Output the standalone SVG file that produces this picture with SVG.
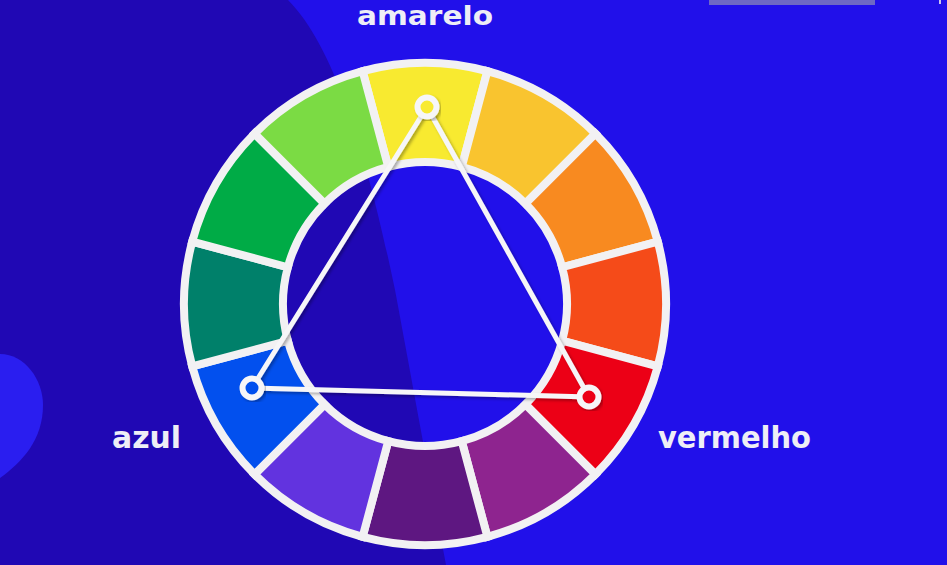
<svg xmlns="http://www.w3.org/2000/svg" width="947" height="565" viewBox="0 0 947 565">
  <defs>
    <style>
      .seg { stroke: #f2f1f3; stroke-width: 8; stroke-linejoin: miter; }
      .edge { stroke: #f6f6f8; stroke-width: 5; stroke-linecap: round; fill: none; }
      .dot { stroke: #f6f6f8; stroke-width: 6; }
      .label { font-family: "DejaVu Sans", "Liberation Sans", sans-serif; font-weight: bold; fill: #eeeef6; }
    </style>
    <filter id="shadow" x="-20%" y="-20%" width="140%" height="140%">
      <feDropShadow dx="2" dy="2" stdDeviation="1.5" flood-color="#000" flood-opacity="0.3"/>
    </filter>
  </defs>

  <!-- background -->
  <rect x="0" y="0" width="947" height="565" fill="#2110EA"/>
  <path d="M0,0 L288,0 C338,50 370,170 395,290 C410,370 428,470 446,565 L0,565 Z" fill="#2008B4"/>
  <path d="M0,354 C25,354 43,380 43,405 C43,440 22,462 0,478 Z" fill="#2A1EF0"/>
  <rect x="709" y="0" width="166" height="5" fill="#6E69C4"/>
  <rect x="939" y="0" width="2" height="4" fill="#c8c6ee"/>

  <!-- colour wheel -->
  <g id="wheel">
    <path id="seg-yellow" class="seg" fill="#F8EA30" d="M362.63,71.22 A241,241 0 0 1 487.37,71.22 L461.75,166.84 A142,142 0 0 0 388.25,166.84 Z"/>
    <path id="seg-yellow-orange" class="seg" fill="#F9C42F" d="M487.37,71.22 A241,241 0 0 1 595.41,133.59 L525.41,203.59 A142,142 0 0 0 461.75,166.84 Z"/>
    <path id="seg-orange" class="seg" fill="#F88A20" d="M595.41,133.59 A241,241 0 0 1 657.78,241.63 L562.16,267.25 A142,142 0 0 0 525.41,203.59 Z"/>
    <path id="seg-red-orange" class="seg" fill="#F54B19" d="M657.78,241.63 A241,241 0 0 1 657.78,366.37 L562.16,340.75 A142,142 0 0 0 562.16,267.25 Z"/>
    <path id="seg-red" class="seg" fill="#EC0016" d="M657.78,366.37 A241,241 0 0 1 595.41,474.41 L525.41,404.41 A142,142 0 0 0 562.16,340.75 Z"/>
    <path id="seg-red-violet" class="seg" fill="#8E248F" d="M595.41,474.41 A241,241 0 0 1 487.37,536.78 L461.75,441.16 A142,142 0 0 0 525.41,404.41 Z"/>
    <path id="seg-violet" class="seg" fill="#5E1781" d="M487.37,536.78 A241,241 0 0 1 362.63,536.78 L388.25,441.16 A142,142 0 0 0 461.75,441.16 Z"/>
    <path id="seg-blue-violet" class="seg" fill="#6233DF" d="M362.63,536.78 A241,241 0 0 1 254.59,474.41 L324.59,404.41 A142,142 0 0 0 388.25,441.16 Z"/>
    <path id="seg-blue" class="seg" fill="#0250EE" d="M254.59,474.41 A241,241 0 0 1 192.22,366.37 L287.84,340.75 A142,142 0 0 0 324.59,404.41 Z"/>
    <path id="seg-blue-green" class="seg" fill="#00806A" d="M192.22,366.37 A241,241 0 0 1 192.22,241.63 L287.84,267.25 A142,142 0 0 0 287.84,340.75 Z"/>
    <path id="seg-green" class="seg" fill="#00AB46" d="M192.22,241.63 A241,241 0 0 1 254.59,133.59 L324.59,203.59 A142,142 0 0 0 287.84,267.25 Z"/>
    <path id="seg-yellow-green" class="seg" fill="#7BDB44" d="M254.59,133.59 A241,241 0 0 1 362.63,71.22 L388.25,166.84 A142,142 0 0 0 324.59,203.59 Z"/>
  </g>

  <!-- connectors: triad triangle -->
  <g id="connectors" filter="url(#shadow)">
    <line class="edge" x1="427" y1="107" x2="252" y2="388"/>
    <line class="edge" x1="427" y1="107" x2="589" y2="397"/>
    <line class="edge" x1="252" y1="388" x2="589" y2="397"/>
  </g>

  <!-- nodes -->
  <g id="node-amarelo">
    <circle class="dot" cx="427" cy="107" r="9.5" fill="#F8EA30" filter="url(#shadow)"/>
    <text class="label" x="357" y="25" font-size="27" textLength="136" lengthAdjust="spacingAndGlyphs">amarelo</text>
  </g>
  <g id="node-azul">
    <circle class="dot" cx="252" cy="388" r="9.5" fill="#0250EE" filter="url(#shadow)"/>
    <text class="label" x="112" y="448" font-size="30" textLength="69" lengthAdjust="spacingAndGlyphs">azul</text>
  </g>
  <g id="node-vermelho">
    <circle class="dot" cx="589" cy="397" r="9.5" fill="#EC0016" filter="url(#shadow)"/>
    <text class="label" x="658" y="448" font-size="30" textLength="153" lengthAdjust="spacingAndGlyphs">vermelho</text>
  </g>
</svg>
